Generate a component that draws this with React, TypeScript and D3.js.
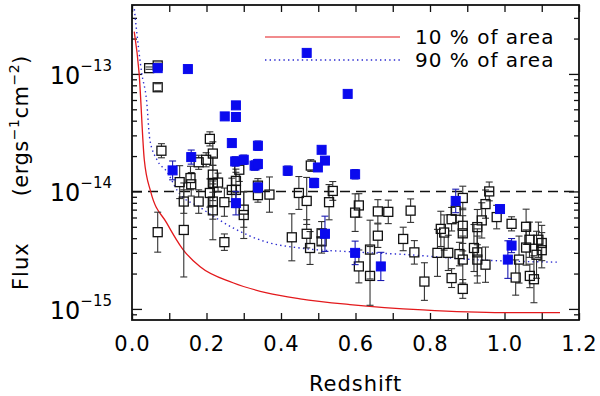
import React, { useEffect, useRef } from "react";
import * as d3 from "d3";

// open squares (black): redshift, flux, error (dex, half length)
const openZ = [0.046, 0.069, 0.069, 0.079, 0.069, 0.128, 0.139, 0.139, 0.157, 0.159, 0.179, 0.179, 0.199, 0.209, 0.217, 0.217, 0.217, 0.209, 0.217, 0.217, 0.231, 0.248, 0.248, 0.268, 0.279, 0.279, 0.288, 0.300, 0.300, 0.338, 0.338, 0.369,
  0.480, 0.448, 0.469, 0.429, 0.469, 0.478, 0.509, 0.509, 0.529, 0.539, 0.599, 0.609, 0.609, 0.639, 0.639, 0.660, 0.660, 0.688, 0.728, 0.748, 0.758, 0.785,
  0.820, 0.829, 0.838, 0.849, 0.858, 0.858, 0.869, 0.879, 0.888, 0.888, 0.888, 0.888, 0.888, 0.918, 0.927, 0.927, 0.927, 0.939, 0.949, 0.949, 0.959, 0.979,
  1.019, 1.030, 1.039, 1.058, 1.058, 1.067, 1.068, 1.079, 1.086, 1.091, 1.100, 1.100]
const openFlux = [1.12e-13, 1.18e-13, 7.7e-14, 2.22e-14, 4.5e-15, 1.2e-14, 8.2e-15, 4.7e-15, 1.3e-14, 1.15e-14, 8.2e-15, 1.77e-14, 1.86e-14, 2.8e-14, 2.1e-14, 1.39e-14, 1.18e-14, 9.7e-15, 8.2e-15, 6.9e-15, 1.19e-14, 8.1e-15, 3.7e-15, 1.03e-14, 1.23e-14, 1.03e-14, 1.53e-14, 7.0e-15, 6.3e-15, 9.3e-15, 1.12e-14, 9.4e-15,
  1.66e-14, 9.7e-15, 8.3e-15, 4.07e-15, 4.36e-15, 3.3e-15, 4.4e-15, 3.76e-15, 8.1e-15, 1.01e-14, 6.6e-15, 7.6e-15, 2.3e-15, 3.2e-15, 1.91e-15, 6.76e-15, 4.2e-15, 6.7e-15, 3.94e-15, 6.86e-15, 3.03e-15, 1.71e-15,
  3.0e-15, 4.8e-15, 4.47e-15, 3.0e-15, 5.8e-15, 1.83e-15, 6.85e-15, 2.93e-15, 8.8e-15, 5.1e-15, 4.4e-15, 2.63e-15, 1.48e-15, 3.3e-15, 4.97e-15, 3.03e-15, 2.63e-15, 5.67e-15, 2.38e-15, 7.8e-15, 1.0e-14, 6.05e-15,
  5.3e-15, 1.85e-15, 2.63e-15, 5.0e-15, 3.33e-15, 3.88e-15, 1.91e-15, 1.79e-15, 2.89e-15, 3.88e-15, 3.64e-15, 3.16e-15]
const openErr = [0.01, 0.02, 0.03, 0.06, 0.17, 0.14, 0.1, 0.4, 0.1, 0.1, 0.1, 0.06, 0.06, 0.06, 0.1, 0.15, 0.15, 0.12, 0.15, 0.25, 0.08, 0.12, 0.07, 0.1, 0.1, 0.15, 0.1, 0.15, 0.2, 0.06, 0.06, 0.15,
  0.05, 0.14, 0.2, 0.2, 0.12, 0.14, 0.1, 0.1, 0.15, 0.08, 0.16, 0.1, 0.14, 0.25, 0.25, 0.1, 0.1, 0.1, 0.1, 0.1, 0.1, 0.16,
  0.2, 0.15, 0.15, 0.15, 0.1, 0.08, 0.1, 0.1, 0.1, 0.15, 0.15, 0.2, 0.08, 0.2, 0.15, 0.2, 0.2, 0.15, 0.15, 0.12, 0.08, 0.1,
  0.06, 0.15, 0.2, 0.15, 0.15, 0.15, 0.1, 0.2, 0.2, 0.15, 0.15, 0.15]

// filled squares (blue)
const blueZ = [0.069, 0.150, 0.249, 0.279, 0.279, 0.268, 0.338, 0.159, 0.109, 0.277, 0.300, 0.329, 0.338, 0.338, 0.279,
  0.469, 0.579, 0.509, 0.518, 0.499, 0.418, 0.489, 0.599, 0.518, 0.599, 0.668, 0.869, 0.988, 1.019, 1.009]
const blueFlux = [1.12e-13, 1.1e-13, 4.35e-14, 5.4e-14, 4.3e-14, 2.58e-14, 2.45e-14, 1.96e-14, 1.51e-14, 1.8e-14, 1.86e-14, 1.66e-14, 1.71e-14, 1.08e-14, 7.95e-15,
  1.51e-13, 6.76e-14, 2.26e-14, 1.83e-14, 1.6e-14, 1.5e-14, 1.18e-14, 1.4e-14, 4.36e-15, 3.0e-15, 2.3e-15, 8.3e-15, 7.08e-15, 3.46e-15, 2.63e-15]
const blueErr = [0, 0, 0, 0, 0, 0.02, 0.04, 0.06, 0.08, 0.04, 0.04, 0.04, 0.04, 0.04, 0.1,
  0, 0, 0.03, 0.03, 0.03, 0.04, 0.04, 0.04, 0.15, 0.1, 0.12, 0.1, 0, 0.06, 0.16]

// flux limit curves
const limit10Z = [0.006, 0.019, 0.033, 0.050, 0.093, 0.137, 0.183, 0.271, 0.362, 0.451, 0.585, 0.781, 0.996, 1.149]
const limit10Flux = [2.29e-13, 1.02e-13, 1.86e-14, 1.0e-14, 5.4e-15, 3.2e-15, 2.28e-15, 1.67e-15, 1.37e-15, 1.22e-15, 1.09e-15, 9.8e-16, 9.3e-16, 9.3e-16]
const limit90Z = [0.005, 0.013, 0.026, 0.039, 0.048, 0.067, 0.094, 0.123, 0.183, 0.271, 0.362, 0.451, 0.585, 0.738, 0.915, 1.141]
const limit90Flux = [3.9e-13, 2.24e-13, 1.02e-13, 6.0e-14, 2.75e-14, 1.86e-14, 1.47e-14, 1.0e-14, 7.3e-15, 4.9e-15, 3.7e-15, 3.3e-15, 3.07e-15, 2.9e-15, 2.63e-15, 2.5e-15]

const xTickValues = d3.range(0, 13).map(i => i / 10)
const yDecades = [1e-15, 1e-14, 1e-13]
const yDecadeLabels = ["\u221215", "\u221214", "\u221213"]
const legendLabels = ["10 % of area", "90 % of area"]

const FONT = "'DejaVu Sans', sans-serif"
const INK = "#000"

export default function App() {
  const ref = useRef<SVGSVGElement>(null)

  useEffect(() => {
    const svg = d3.select(ref.current)
    svg.selectAll("*").remove()

    const m = { left: 132, right: 579, top: 5, bottom: 320 }
    const x = d3.scaleLinear().domain([0, 1.2]).range([m.left, m.right])
    const y = d3.scaleLog().domain([8.05e-16, 3.86e-13]).range([m.bottom, m.top])

    svg.append("rect").attr("width", 600).attr("height", 396).attr("fill", "white")

    svg.append("clipPath").attr("id", "plotclip")
      .append("rect")
      .attr("x", m.left).attr("y", m.top)
      .attr("width", m.right - m.left).attr("height", m.bottom - m.top)

    // AXES
    const xb = svg.append("g")
      .attr("transform", `translate(0,${m.bottom})`)
      .call(d3.axisBottom(x).tickValues(xTickValues).tickSizeInner(-7).tickSizeOuter(0).tickPadding(16)
        .tickFormat(d => (Math.round(+d * 10) % 2 === 0 ? d3.format(".1f")(+d) : "")))
    xb.select(".domain").remove()
    xb.selectAll("text").attr("font-family", FONT).attr("font-size", 21).attr("fill", INK)
      .attr("letter-spacing", 1)

    const xt = svg.append("g")
      .attr("transform", `translate(0,${m.top})`)
      .call(d3.axisTop(x).tickValues(xTickValues).tickSizeInner(-7).tickSizeOuter(0).tickFormat(() => ""))
    xt.select(".domain").remove()

    const yMinor: number[] = []
    yDecades.concat([1e-16, 1e-12]).forEach(dec => {
      for (let k = 2; k <= 9; k++) {
        const v = dec * k
        if (v > y.domain()[0] && v < y.domain()[1]) yMinor.push(v)
      }
    })

    const yl = svg.append("g").attr("transform", `translate(${m.left},0)`)
    yl.call(d3.axisLeft(y).tickValues(yDecades).tickSizeInner(-10).tickSizeOuter(0).tickFormat(() => ""))
    yl.append("g").call(d3.axisLeft(y).tickValues(yMinor).tickSizeInner(-5).tickSizeOuter(0).tickFormat(() => ""))
    yl.selectAll(".domain").remove()

    const yr = svg.append("g").attr("transform", `translate(${m.right},0)`)
    yr.call(d3.axisRight(y).tickValues(yDecades).tickSizeInner(-10).tickSizeOuter(0).tickFormat(() => ""))
    yr.append("g").call(d3.axisRight(y).tickValues(yMinor).tickSizeInner(-5).tickSizeOuter(0).tickFormat(() => ""))
    yr.selectAll(".domain").remove()

    svg.selectAll(".tick line").attr("stroke", "#111").attr("stroke-width", 1.3)

    // y tick labels 10^n
    yDecades.forEach((d, i) => {
      const t = svg.append("text")
        .attr("x", 112).attr("y", y(d) + 10)
        .attr("text-anchor", "end")
        .attr("font-family", FONT).attr("fill", INK)
      t.append("tspan").attr("font-size", 24).text("10")
      t.append("tspan").attr("font-size", 15).attr("dy", -13).text(yDecadeLabels[i])
    })

    // axis titles
    svg.append("text")
      .attr("x", (m.left + m.right) / 2).attr("y", 391)
      .attr("text-anchor", "middle")
      .attr("font-family", FONT).attr("font-size", 21).attr("fill", INK)
      .attr("letter-spacing", 1)
      .text("Redshift")

    const yt = svg.append("text")
      .attr("transform", "translate(28,290) rotate(-90)")
      .attr("font-family", FONT).attr("font-size", 21).attr("fill", INK)
      .attr("letter-spacing", 0.5)
    yt.append("tspan").attr("letter-spacing", 1).text("Flux")
    yt.append("tspan").attr("dx", 46).text("(ergs")
    yt.append("tspan").attr("font-size", 14).attr("dy", -9).text("\u22121")
    yt.append("tspan").attr("dy", 9).text("cm")
    yt.append("tspan").attr("font-size", 14).attr("dy", -9).text("\u22122")
    yt.append("tspan").attr("dy", 9).text(")")

    const plot = svg.append("g").attr("clip-path", "url(#plotclip)")

    // dashed 1e-14 line
    plot.append("line")
      .attr("x1", m.left).attr("x2", m.right)
      .attr("y1", y(1e-14)).attr("y2", y(1e-14))
      .attr("stroke", "#111").attr("stroke-width", 1.6).attr("stroke-dasharray", "10,6")

    // limit curves
    const line = d3.line<[number, number]>().x(d => x(d[0])).y(d => y(d[1])).curve(d3.curveMonotoneX)
    plot.append("path")
      .attr("d", line(limit10Z.map((z, i) => [z, limit10Flux[i]])))
      .attr("fill", "none").attr("stroke", "#e3191c").attr("stroke-width", 1.3)
    plot.append("path")
      .attr("d", line(limit90Z.map((z, i) => [z, limit90Flux[i]])))
      .attr("fill", "none").attr("stroke", "#2a2ad0").attr("stroke-width", 1.4).attr("stroke-dasharray", "1.4,3.2")

    // error bars + squares
    const half = 4.5
    const cap = 3.5
    const drawPoints = (zs: number[], fl: number[], er: number[], filled: boolean) => {
      const color = filled ? "#1a1ab0" : "#333"
      zs.forEach((z, i) => {
        const cx = x(z), cy = y(fl[i])
        if (er[i] > 0) {
          const yTop = y(fl[i] * Math.pow(10, er[i]))
          const yBot = y(fl[i] / Math.pow(10, er[i]))
          const g = plot.append("g").attr("stroke", color).attr("stroke-width", 1.1)
          if (cy - yTop > half) {
            g.append("line").attr("x1", cx).attr("x2", cx).attr("y1", yTop).attr("y2", cy - half)
          }
          if (yBot - cy > half) {
            g.append("line").attr("x1", cx).attr("x2", cx).attr("y1", cy + half).attr("y2", yBot)
          }
          g.append("line").attr("x1", cx - cap).attr("x2", cx + cap).attr("y1", yTop).attr("y2", yTop)
          g.append("line").attr("x1", cx - cap).attr("x2", cx + cap).attr("y1", yBot).attr("y2", yBot)
        }
      })
      zs.forEach((z, i) => {
        const cx = x(z), cy = y(fl[i])
        plot.append("rect")
          .attr("x", cx - half).attr("y", cy - half)
          .attr("width", half * 2).attr("height", half * 2)
          .attr("fill", filled ? "#0a0aee" : "none")
          .attr("stroke", filled ? "#0a0aee" : "#111")
          .attr("stroke-width", filled ? 1 : 1.3)
      })
    }
    drawPoints(openZ, openFlux, openErr, false)
    drawPoints(blueZ, blueFlux, blueErr, true)

    // legend
    const legend = svg.append("g")
    legend.append("line").attr("x1", 265).attr("x2", 400).attr("y1", 37).attr("y2", 37)
      .attr("stroke", "#e3191c").attr("stroke-width", 1.2)
    legend.append("line").attr("x1", 265).attr("x2", 400).attr("y1", 60).attr("y2", 60)
      .attr("stroke", "#2a2ad0").attr("stroke-width", 1.3).attr("stroke-dasharray", "1.4,3.2")
    legendLabels.forEach((lab, i) => {
      legend.append("text")
        .attr("x", 415).attr("y", 44 + i * 23)
        .attr("font-family", FONT).attr("font-size", 20).attr("fill", INK)
        .attr("letter-spacing", 1)
        .text(lab)
    })

    // frame
    svg.append("rect")
      .attr("x", m.left).attr("y", m.top)
      .attr("width", m.right - m.left).attr("height", m.bottom - m.top)
      .attr("fill", "none").attr("stroke", "#111").attr("stroke-width", 1.8)
  }, [])

  return (
    <svg ref={ref} width={600} height={396}
      style={{ position: "absolute", left: 0, top: 0, display: "block" }} />
  )
}
